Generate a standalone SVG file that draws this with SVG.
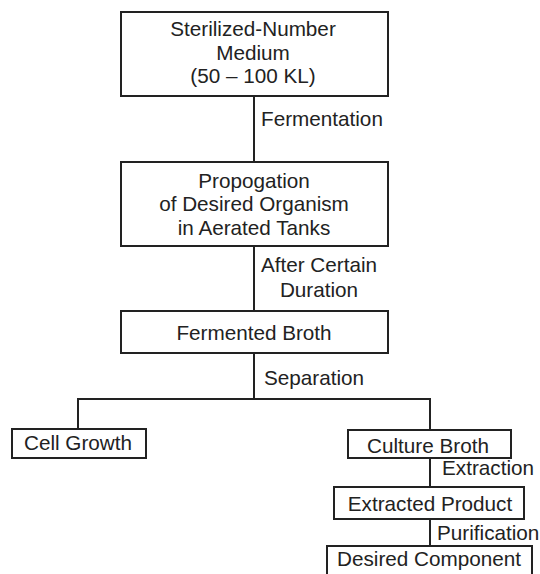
<svg xmlns="http://www.w3.org/2000/svg" width="540" height="574" viewBox="0 0 540 574">
<style>
.box{fill:#fff;stroke:#222;stroke-width:2}
.ln{fill:none;stroke:#222;stroke-width:2}
text{font-family:"Liberation Sans",Arial,sans-serif;font-size:20.7px;fill:#222}
.c{text-anchor:middle}
</style>
<rect width="540" height="574" fill="#fff"/>
<g id="connectors">
<line class="ln" x1="254" y1="96" x2="254" y2="162"/>
<line class="ln" x1="254" y1="246" x2="254" y2="311"/>
<line class="ln" x1="254" y1="353" x2="254" y2="399"/>
<polyline class="ln" points="78,429 78,399 430,399 430,430"/>
<line class="ln" x1="430" y1="458" x2="430" y2="487"/>
<line class="ln" x1="430" y1="519" x2="430" y2="546"/>
<text x="261" y="126">Fermentation</text>
<text class="c" x="319" y="272">After Certain</text>
<text class="c" x="319" y="297">Duration</text>
<text x="264" y="385">Separation</text>
<text x="442" y="475">Extraction</text>
<text x="437" y="540">Purification</text>
</g>
<g id="n1">
<rect class="box" x="121" y="12" width="267" height="84"/>
<text class="c" x="253" y="36">Sterilized-Number</text>
<text class="c" x="253" y="59.5">Medium</text>
<text class="c" x="253" y="83">(50 – 100 KL)</text>
</g>
<g id="n2">
<rect class="box" x="121" y="162" width="267" height="84"/>
<text class="c" x="254" y="187.5">Propogation</text>
<text class="c" x="254" y="211">of Desired Organism</text>
<text class="c" x="254" y="234.5">in Aerated Tanks</text>
</g>
<g id="n3">
<rect class="box" x="121" y="311" width="267" height="42"/>
<text class="c" x="254" y="339.5">Fermented Broth</text>
</g>
<g id="n4">
<rect class="box" x="12" y="429" width="134" height="29"/>
<text class="c" x="78" y="449.5">Cell Growth</text>
</g>
<g id="n5">
<rect class="box" x="348" y="430" width="163" height="28"/>
<text class="c" x="428" y="452.5">Culture Broth</text>
</g>
<g id="n6">
<rect class="box" x="334" y="487" width="190" height="32"/>
<text class="c" x="430" y="510.5">Extracted Product</text>
</g>
<g id="n7">
<rect class="box" x="327" y="546" width="205" height="40"/>
<text class="c" x="429" y="566">Desired Component</text>
</g>
</svg>
